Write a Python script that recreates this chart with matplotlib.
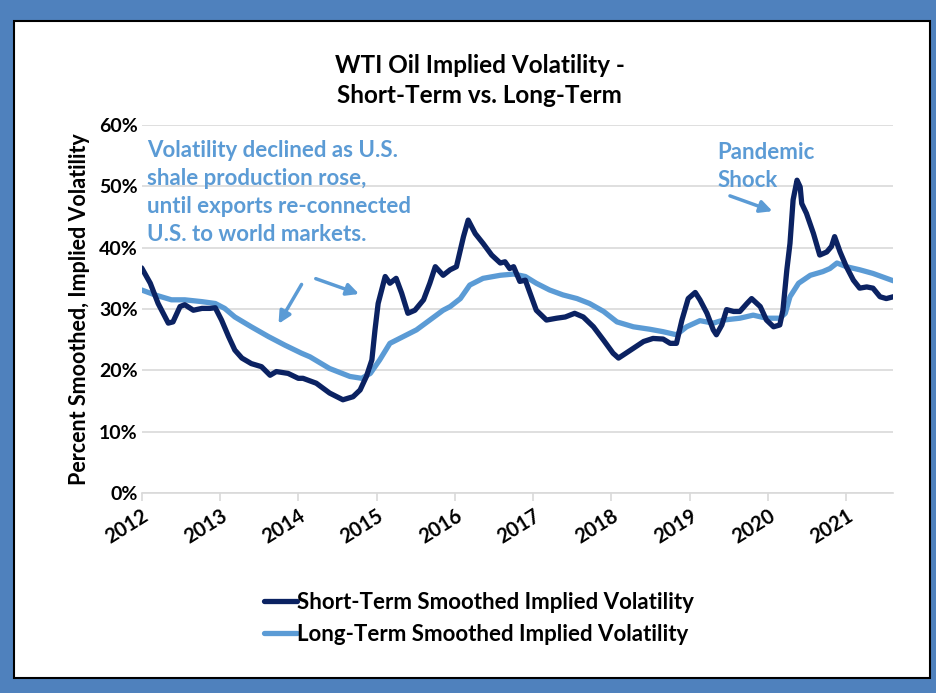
import matplotlib
matplotlib.use('Agg')
import matplotlib.pyplot as plt
from matplotlib.patches import Rectangle
from matplotlib.ticker import PercentFormatter

plt.rcParams['font.family'] = ['Lato', 'DejaVu Sans']
plt.rcParams['font.weight'] = 'bold'
plt.rcParams['figure.titleweight'] = 'bold'
plt.rcParams['axes.labelweight'] = 'bold'

# 短期隐含波动率（年份为小数）
short_years = [2012.00, 2012.11, 2012.21, 2012.34, 2012.40, 2012.49, 2012.55, 2012.66, 2012.77, 2012.87,
               2012.94, 2013.02, 2013.11, 2013.19, 2013.28, 2013.40, 2013.53, 2013.64, 2013.72, 2013.87,
               2014.00, 2014.06, 2014.23, 2014.40, 2014.57, 2014.70, 2014.79, 2014.87, 2014.94, 2014.98,
               2015.02, 2015.11, 2015.17, 2015.25, 2015.32, 2015.40, 2015.49, 2015.60, 2015.68, 2015.75,
               2015.85, 2015.94, 2016.02, 2016.11, 2016.17, 2016.26, 2016.36, 2016.47, 2016.58, 2016.64,
               2016.70, 2016.75, 2016.83, 2016.90, 2016.96, 2017.04, 2017.17, 2017.30, 2017.41, 2017.53,
               2017.64, 2017.77, 2017.90, 2018.02, 2018.09, 2018.15, 2018.28, 2018.41, 2018.53, 2018.66,
               2018.75, 2018.83, 2018.90, 2018.98, 2019.07, 2019.13, 2019.22, 2019.30, 2019.34, 2019.41,
               2019.47, 2019.56, 2019.64, 2019.73, 2019.79, 2019.90, 2019.98, 2020.07, 2020.15, 2020.19,
               2020.24, 2020.28, 2020.32, 2020.37, 2020.41, 2020.43, 2020.49, 2020.58, 2020.66, 2020.75,
               2020.81, 2020.85, 2020.92, 2021.00, 2021.09, 2021.17, 2021.26, 2021.34, 2021.43, 2021.51,
               2021.60]
short_vol = [36.7, 34.2, 30.9, 27.7, 27.9, 30.4, 30.7, 29.8, 30.1, 30.1,
             30.2, 28.2, 25.5, 23.3, 22.0, 21.1, 20.6, 19.2, 19.8, 19.5,
             18.7, 18.7, 17.9, 16.3, 15.2, 15.7, 16.8, 19.0, 21.7, 26.6,
             30.9, 35.3, 34.2, 35.0, 32.6, 29.3, 29.8, 31.5, 34.2, 36.9,
             35.5, 36.4, 36.9, 41.8, 44.5, 42.3, 40.7, 38.8, 37.5, 37.7,
             36.6, 36.9, 34.5, 34.7, 32.6, 29.8, 28.2, 28.5, 28.7, 29.3,
             28.7, 27.1, 24.9, 22.8, 22.0, 22.5, 23.6, 24.7, 25.2, 25.1,
             24.4, 24.4, 28.2, 31.7, 32.7, 31.5, 29.3, 26.6, 25.8, 27.4,
             29.9, 29.6, 29.6, 30.9, 31.7, 30.4, 28.2, 27.1, 27.4, 29.8,
             36.4, 40.7, 47.8, 51.0, 49.9, 47.2, 45.6, 42.3, 38.8, 39.3,
             40.2, 41.8, 39.3, 36.9, 34.7, 33.4, 33.6, 33.4, 32.0, 31.7,
             32.0]

# 长期隐含波动率
long_years = [2012.00, 2012.17, 2012.38, 2012.55, 2012.77, 2012.94, 2013.06, 2013.19, 2013.40, 2013.62,
              2013.83, 2014.04, 2014.15, 2014.40, 2014.66, 2014.81, 2014.92, 2015.04, 2015.17, 2015.34,
              2015.51, 2015.68, 2015.85, 2015.94, 2016.07, 2016.19, 2016.36, 2016.58, 2016.75, 2016.90,
              2017.04, 2017.21, 2017.38, 2017.56, 2017.72, 2017.90, 2018.07, 2018.28, 2018.49, 2018.66,
              2018.83, 2018.96, 2019.13, 2019.30, 2019.43, 2019.64, 2019.81, 2019.98, 2020.15, 2020.22,
              2020.28, 2020.39, 2020.54, 2020.70, 2020.79, 2020.88, 2021.00, 2021.17, 2021.34, 2021.47,
              2021.60]
long_vol = [33.1, 32.3, 31.5, 31.5, 31.2, 30.9, 30.1, 28.7, 27.1, 25.5,
            24.1, 22.8, 22.2, 20.3, 19.0, 18.7, 19.5, 21.7, 24.4, 25.5,
            26.6, 28.2, 29.8, 30.4, 31.7, 33.9, 35.0, 35.5, 35.7, 35.3,
            34.2, 33.1, 32.3, 31.7, 30.9, 29.6, 27.9, 27.1, 26.7, 26.3,
            25.8, 27.1, 28.1, 27.7, 28.2, 28.5, 29.0, 28.5, 28.5, 29.3,
            32.0, 34.2, 35.5, 36.1, 36.6, 37.5, 36.9, 36.4, 35.8, 35.2,
            34.6]

tick_years = list(range(2012, 2022))
y_ticks = [0, 10, 20, 30, 40, 50, 60]

NAVY = '#0B2262'
LIGHT = '#5B9BD5'

fig = plt.figure(figsize=(9.37, 6.93), dpi=100)
fig.patch.set_facecolor('#4F81BD')
# 白色内框
fig.patches.append(Rectangle((0.0149, 0.0216), 0.9776, 0.9481, transform=fig.transFigure,
                             facecolor='white', edgecolor='black', linewidth=1.5, zorder=-5))

ax = fig.add_axes([0.1512, 0.2886, 0.8022, 0.5310])
ax.set_facecolor('none')
ax.plot(short_years, short_vol, color=NAVY, lw=3.8, label='Short-Term Smoothed Implied Volatility',
        solid_capstyle='round', zorder=3)
ax.plot(long_years, long_vol, color=LIGHT, lw=3.8, label='Long-Term Smoothed Implied Volatility',
        solid_capstyle='round', zorder=2)

ax.set_xlim(2012, 2021.6)
ax.set_ylim(0, 60)
ax.set_yticks(y_ticks)
ax.yaxis.set_major_formatter(PercentFormatter(decimals=0))
ax.set_xticks(tick_years)
ax.set_xticklabels([str(y) for y in tick_years], rotation=32, ha='right', rotation_mode='anchor')
ax.grid(axis='y', color='#D9D9D9', lw=1.2)
ax.set_axisbelow(True)
for s in ['top', 'right', 'left']:
    ax.spines[s].set_visible(False)
ax.spines['bottom'].set_color('#D9D9D9')
ax.spines['bottom'].set_linewidth(1.2)
ax.tick_params(axis='y', length=0, labelsize=14, pad=3)
ax.tick_params(axis='x', length=6, color='#D9D9D9', width=1.2, labelsize=14.5, pad=3)
ax.set_ylabel('Percent Smoothed, Implied Volatility', fontsize=15.5, labelpad=6)

fig.suptitle('WTI Oil Implied Volatility -\nShort-Term vs. Long-Term', x=0.512, y=0.922,
             fontsize=17.5, linespacing=1.35)

# 注释文字和箭头
ax.text(2012.07, 57.6, 'Volatility declined as U.S.\nshale production rose,\nuntil exports re-connected\nU.S. to world markets.',
        color=LIGHT, fontsize=16, va='top', ha='left', linespacing=1.42)
arrow = dict(arrowstyle='-|>', color=LIGHT, lw=2.5, mutation_scale=18)
ax.annotate('', xy=(2013.73, 27.2), xytext=(2014.06, 34.4), arrowprops=arrow)
ax.annotate('', xy=(2014.81, 32.3), xytext=(2014.19, 35.1), arrowprops=arrow)
ax.text(2019.35, 57.2, 'Pandemic\nShock', color=LIGHT, fontsize=16, va='top', ha='left', linespacing=1.42)
ax.annotate('', xy=(2020.09, 45.8), xytext=(2019.48, 48.6), arrowprops=arrow)

fig.legend(loc='center left', bbox_to_anchor=(0.265, 0.108), frameon=False, fontsize=16,
           handlelength=1.5, handletextpad=0.0, labelspacing=0.5, borderpad=0.2)

fig.savefig('out.png', dpi=100, facecolor=fig.get_facecolor())
